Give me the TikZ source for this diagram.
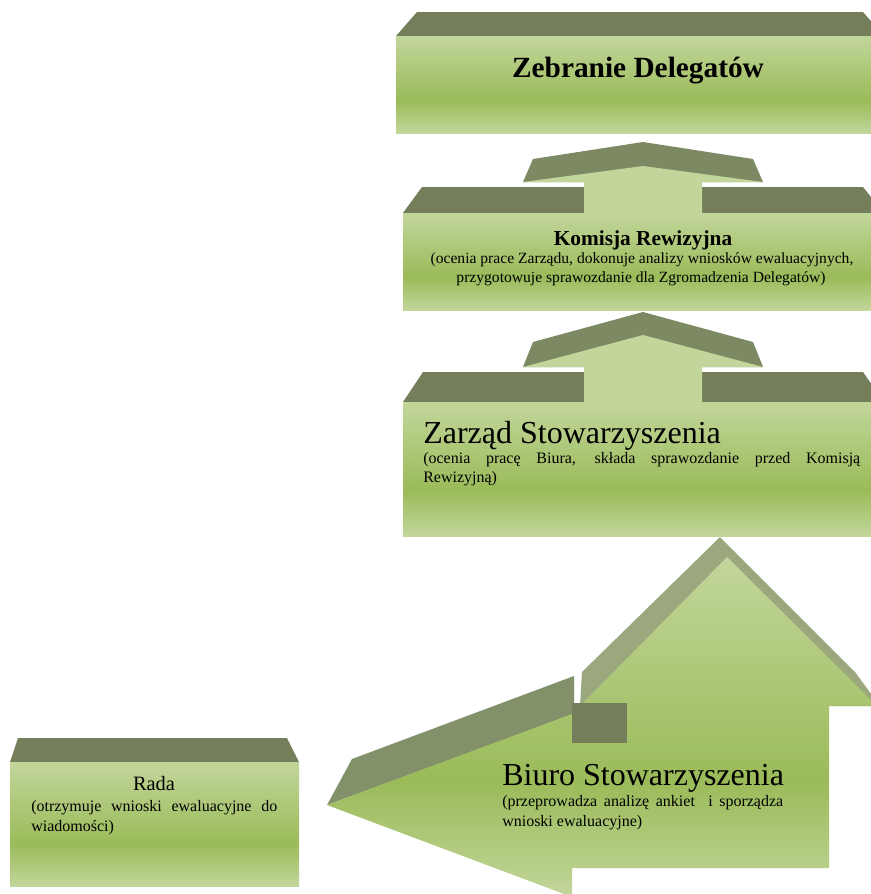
\documentclass[tikz,border=0pt]{standalone}
\usepackage{fontspec}
\setmainfont{Liberation Serif}
\definecolor{topdark}{RGB}{116,126,91}
\definecolor{arrowtop}{RGB}{124,137,99}
\definecolor{leftarrowtop}{RGB}{131,145,106}
\definecolor{upstrip}{RGB}{155,168,125}
\definecolor{gl}{RGB}{194,214,155}
\definecolor{gm}{RGB}{155,187,89}
\pgfdeclareverticalshading{frontshade}{100bp}{color(0bp)=(gl); color(25bp)=(gl); color(42bp)=(gm); color(75bp)=(gl); color(100bp)=(gl)}
\tikzset{
  topface/.style={fill=topdark},
  front/.style={shading=frontshade},
  arrowfront/.style={fill=gl},
  lbl/.style={inner sep=0pt, text=black}
}
\begin{document}
\begin{tikzpicture}[x=0.75pt,y=-0.75pt]
\useasboundingbox (0,0) rectangle (871,894);
\fill[white] (0,0) rectangle (871,894);
\clip (0,0) rectangle (871,894);

% Box 1: Zebranie Delegatow
\fill[topface] (396,36) -- (417,12) -- (863,12) -- (884,36) -- cycle;
\shade[front] (396,36) rectangle (890,133);

% Arrow 1
\fill[arrowtop] (523,182) -- (533,159) -- (643,142) -- (753,159) -- (763,182) -- cycle;

% Box 2: Komisja Rewizyjna
\fill[topface] (403,213) -- (422,187) -- (863,187) -- (884,213) -- cycle;
\shade[front] (403,213) rectangle (890,310);
\fill[arrowfront] (584,213) -- (584,182) -- (523,182) -- (643,166) -- (763,182) -- (702,182) -- (702,213) -- cycle;

% Arrow 2
\fill[arrowtop] (523,367) -- (533,342) -- (643,312) -- (753,342) -- (763,367) -- cycle;

% Box 3: Zarzad
\fill[topface] (403,402) -- (423,372) -- (863,372) -- (884,402) -- cycle;
\shade[front] (403,402) rectangle (890,536);
\fill[arrowfront] (584,402) -- (584,367) -- (523,367) -- (643,335) -- (763,367) -- (702,367) -- (702,402) -- cycle;

% Big bent arrow (Biuro)
\fill[upstrip] (580,706) -- (582,672) -- (720,537) -- (855,672) -- (880,706) -- cycle;
\fill[leftarrowtop] (327,805) -- (352,759) -- (574,676) -- (574,714) -- cycle;
\shade[front] (327,805) -- (572,714) -- (580,706) -- (727,557) -- (877,706) -- (829,706) -- (829,868) -- (572,868) -- (572,897) -- cycle;
\fill[topface] (572,703) rectangle (627,743);

% Rada box
\fill[topface] (10,762) -- (18,738) -- (287,738) -- (299,762) -- cycle;
\shade[front] (10,762) rectangle (299,886);

% Texts
\node[lbl, anchor=base] (zd) at (638,77) {\fontsize{22}{26}\selectfont\bfseries Zebranie Delegatów};

\node[lbl, anchor=base] (kr) at (643,245) {\fontsize{16}{19}\selectfont\bfseries Komisja Rewizyjna};
\node[lbl, anchor=base] (kr1) at (642,263) {\fontsize{11.7}{14}\selectfont (ocenia prace Zarządu, dokonuje analizy wniosków ewaluacyjnych,};
\node[lbl, anchor=base] (kr2) at (641,282) {\fontsize{11.7}{14}\selectfont przygotowuje sprawozdanie dla Zgromadzenia Delegatów)};

\node[lbl, anchor=base west] (zs) at (423,443) {\fontsize{24}{28}\selectfont Zarząd Stowarzyszenia};
\node[lbl, anchor=base west] (zs1) at (423,463) {\fontsize{12}{14}\selectfont\makebox[327.75pt][s]{(ocenia pracę Biura, składa sprawozdanie przed Komisją}};
\node[lbl, anchor=base west] (zs2) at (423,482) {\fontsize{12}{14}\selectfont Rewizyjną)};

\node[lbl, anchor=base west] (bs) at (502,785) {\fontsize{24}{28}\selectfont Biuro Stowarzyszenia};
\node[lbl, anchor=base west] (bs1) at (502,806) {\fontsize{12}{14}\selectfont\makebox[210.75pt][s]{(przeprowadza analizę ankiet \ i sporządza}};
\node[lbl, anchor=base west] (bs2) at (502,826) {\fontsize{12}{14}\selectfont wnioski ewaluacyjne)};

\node[lbl, anchor=base] (rd) at (154,790) {\fontsize{15.3}{18}\selectfont Rada};
\node[lbl, anchor=base west] (rd1) at (31,811) {\fontsize{12}{14}\selectfont\makebox[184.5pt][s]{(otrzymuje wnioski ewaluacyjne do}};
\node[lbl, anchor=base west] (rd2) at (31,831) {\fontsize{12}{14}\selectfont wiadomości)};
\end{tikzpicture}
\end{document}
